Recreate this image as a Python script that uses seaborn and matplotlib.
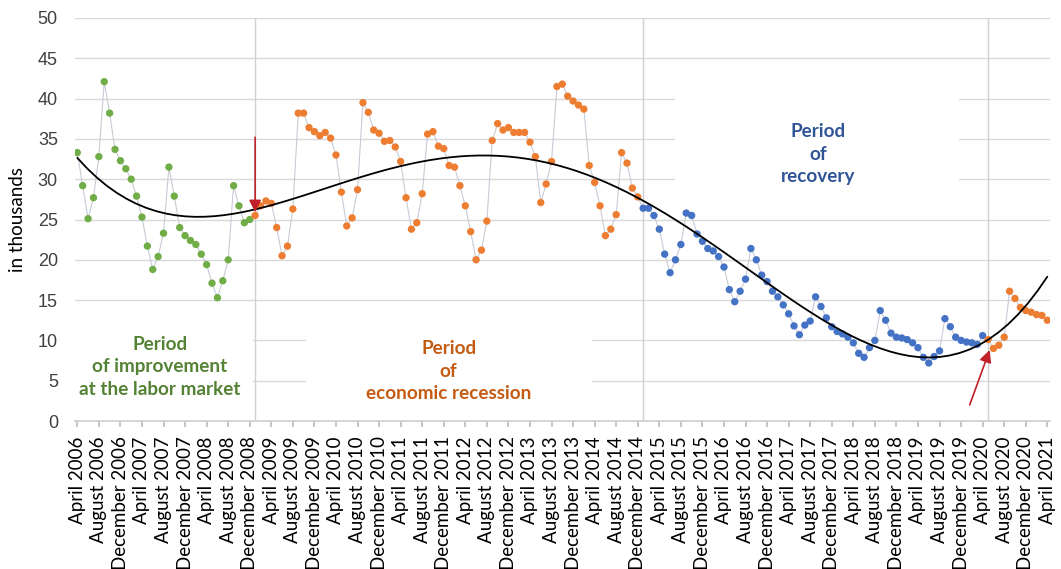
import numpy as np
import pandas as pd
import matplotlib
matplotlib.use("Agg")
import matplotlib.pyplot as plt
from matplotlib.patches import Rectangle
import seaborn as sns

# ---------------- data ----------------
start_month = "2006-04-01"
end_month = "2021-04-01"

improvement_vals = [33.3, 29.2, 25.1, 27.7, 32.8, 42.1, 38.2, 33.7, 32.3,
                    31.3, 30.0, 27.9, 25.3, 21.7, 18.8, 20.4, 23.3, 31.5, 27.9, 24.0, 23.0,
                    22.4, 21.9, 20.7, 19.4, 17.1, 15.3, 17.4, 20.0, 29.2, 26.7, 24.6, 25.0]

recession_vals = [25.5, 26.7, 27.3, 27.0, 24.0, 20.5, 21.7, 26.3, 38.2, 38.2, 36.4, 35.9,
                  35.4, 35.8, 35.1, 33.0, 28.4, 24.2, 25.2, 28.7, 39.5, 38.3, 36.1, 35.7,
                  34.7, 34.8, 34.0, 32.2, 27.7, 23.8, 24.6, 28.2, 35.6, 35.9, 34.1, 33.8,
                  31.7, 31.5, 29.2, 26.7, 23.5, 20.0, 21.2, 24.8, 34.8, 36.9, 36.1, 36.4,
                  35.8, 35.8, 35.8, 34.6, 32.8, 27.1, 29.4, 32.2, 41.5, 41.8, 40.3, 39.7,
                  39.2, 38.7, 31.7, 29.6, 26.7, 23.0, 23.8, 25.6, 33.3, 32.0, 28.9, 27.8]

recovery_vals = [26.4, 26.4, 25.5, 23.8, 20.7, 18.4, 20.0, 21.9, 25.8, 25.5, 23.2, 22.3,
                 21.4, 21.1, 20.4, 19.1, 16.3, 14.8, 16.1, 17.6, 21.4, 20.0, 18.1, 17.3,
                 16.1, 15.4, 14.4, 13.3, 11.8, 10.7, 11.9, 12.4, 15.4, 14.2, 12.8, 11.7,
                 11.1, 10.8, 10.4, 9.7, 8.4, 7.9, 9.1, 10.0, 13.7, 12.5, 10.9, 10.4,
                 10.3, 10.1, 9.7, 9.1, 7.9, 7.2, 8.0, 8.7, 12.7, 11.7, 10.4, 10.0,
                 9.8, 9.7, 9.5, 10.6]

covid_vals = [10.1, 9.0, 9.4, 10.4, 16.1, 15.2, 14.1, 13.7, 13.5, 13.2, 13.1, 12.5]

period_labels = {
    "improvement": "Period\nof improvement\nat the labor market",
    "recession": "Period\nof\neconomic recession",
    "recovery": "Period\nof\nrecovery",
}
point_colors = {"improvement": "#70AD47", "recession": "#ED7D31",
                "recovery": "#4472C4", "covid": "#ED7D31"}
text_colors = {"improvement": "#548235", "recession": "#C55A11", "recovery": "#2F5597"}

# ---------------- frame ----------------
months = pd.date_range(start_month, end_month, freq="MS")
values = improvement_vals + recession_vals + recovery_vals + covid_vals
periods = (["improvement"] * len(improvement_vals) + ["recession"] * len(recession_vals)
           + ["recovery"] * len(recovery_vals) + ["covid"] * len(covid_vals))
df = pd.DataFrame({"idx": np.arange(len(values)), "month": months[:len(values)],
                   "value": values, "period": periods})
tick_idx = df["idx"][::4]
tick_labels = [f"{m.strftime('%B')} {m.year}" for m in df["month"][::4]]

# ---------------- plot ----------------
sns.set_theme(style="white")
plt.rcParams["font.family"] = ["Lato", "DejaVu Sans"]

W, H = 1061, 569
fig = plt.figure(figsize=(W / 100, H / 100), dpi=100)
ax = fig.add_axes([74.6 / W, 1 - 421 / H, (1050 - 74.6) / W, (421 - 18) / H])

ax.set_axisbelow(True)
ax.yaxis.grid(True, color="#D9D9D9", lw=1.0)

# white label boxes hiding the gridlines
for (x0, x1, y0, y1) in [(-0.45, 32.6, 0.4, 12.8), (42.4, 95.5, 0.4, 12.8), (111.0, 163.7, 26.8, 40.2)]:
    ax.add_patch(Rectangle((x0, y0), x1 - x0, y1 - y0, facecolor="white", edgecolor="none", zorder=1))

# period separators
bounds = df.groupby("period", sort=False)["idx"].min().iloc[1:]
for b in bounds:
    ax.axvline(b, color="#D0D0D0", lw=1.0, zorder=1.5)

ax.plot(df["idx"], df["value"], color="#C8CBD6", lw=0.8, zorder=2)
sns.scatterplot(data=df, x="idx", y="value", hue="period", palette=point_colors,
                s=28, edgecolor="none", legend=False, zorder=4, ax=ax)
sns.regplot(data=df, x="idx", y="value", order=4, ci=None, scatter=False, truncate=True,
            line_kws=dict(color="black", lw=1.3, zorder=5), ax=ax)

# arrows
ax.annotate("", xy=(33, 25.9), xytext=(33, 35.2),
            arrowprops=dict(arrowstyle="-|>", color="#C0202A", lw=1.2, mutation_scale=18,
                            shrinkA=0, shrinkB=0), zorder=6)
ax.annotate("", xy=(169.3, 8.8), xytext=(165.6, 2.0),
            arrowprops=dict(arrowstyle="-|>", color="#C0202A", lw=1.2, mutation_scale=18,
                            shrinkA=0, shrinkB=0), zorder=6)

# period texts
for key, (tx, ty) in {"improvement": (15.3, 6.7), "recession": (68.9, 6.2),
                      "recovery": (137.4, 33.1)}.items():
    ax.text(tx, ty, period_labels[key], ha="center", va="center", color=text_colors[key],
            fontsize=13.6, fontweight="bold", linespacing=1.4, zorder=6)

# axes
ax.set_xlim(-0.5, len(df) - 0.5)
ax.set_ylim(0, 50)
ax.set_yticks(np.arange(0, 51, 5))
ax.set_yticklabels([str(v) for v in range(0, 51, 5)], family="Liberation Sans",
                   fontsize=13, color="#404040")
ax.set_xticks(tick_idx)
ax.set_xticklabels(tick_labels, rotation=90, fontsize=13.5, color="black")
ax.tick_params(axis="x", length=4, color="#BFBFBF", pad=7, bottom=True)
ax.tick_params(axis="y", length=0, pad=12)
for s in ["top", "right", "left"]:
    ax.spines[s].set_visible(False)
ax.spines["bottom"].set_color("#D0D0D0")
ax.set_xlabel("")
ax.set_ylabel("in thousands", fontsize=13.5, color="black")
ax.yaxis.set_label_coords(-(74.6 - 26) / (1050 - 74.6), 0.5)

fig.savefig("out.png", dpi=100)
